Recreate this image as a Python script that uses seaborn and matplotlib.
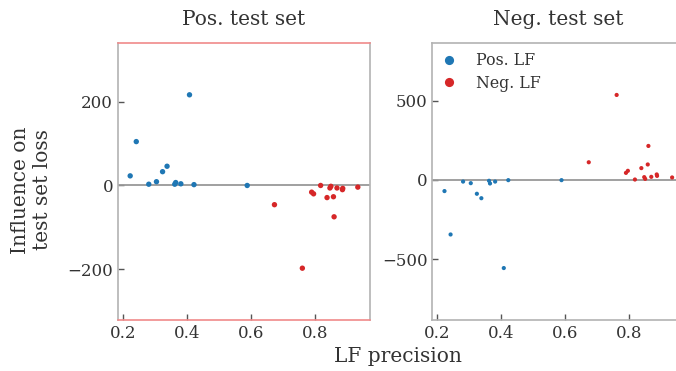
import numpy as np
import pandas as pd
import matplotlib
matplotlib.use("Agg")
import matplotlib.pyplot as plt
import seaborn as sns

# LF precision of positive / negative labeling functions
pos_lf_precision = [0.223, 0.242, 0.281, 0.305, 0.324, 0.338, 0.362, 0.365, 0.381, 0.408, 0.422, 0.588]
neg_lf_precision = [0.673, 0.760, 0.789, 0.795, 0.817, 0.837, 0.846, 0.849, 0.857, 0.859, 0.868, 0.885, 0.886, 0.933]

# Influence on positive test set loss
pos_lf_infl_postest = [23, 105, 3, 9, 33, 46, 3, 7, 4, 217, 2, 0]
neg_lf_infl_postest = [-46, -198, -16, -20, 0, -29, -6, -2, -27, -75, -6, -10, -7, -4]

# Influence on negative test set loss
pos_lf_infl_negtest = [-71, -345, -11, -21, -88, -116, -6, -23, -11, -557, -2, -2]
neg_lf_infl_negtest = [111, 536, 44, 57, 2, 74, 17, 6, 97, 214, 19, 34, 25, 15]

titles = ["Pos. test set", "Neg. test set"]
hue_labels = ["Pos. LF", "Neg. LF"]

sns.set_theme(style="ticks")
plt.rcParams["font.family"] = ["DejaVu Serif"]
plt.rcParams["xtick.direction"] = "in"
plt.rcParams["ytick.direction"] = "in"

def make_df(pos_y, neg_y):
    return pd.DataFrame({
        "precision": pos_lf_precision + neg_lf_precision,
        "influence": pos_y + neg_y,
        "LF": [hue_labels[0]] * len(pos_y) + [hue_labels[1]] * len(neg_y),
    })

dfs = [make_df(pos_lf_infl_postest, neg_lf_infl_postest),
       make_df(pos_lf_infl_negtest, neg_lf_infl_negtest)]

palette = {hue_labels[0]: "#1f77b4", hue_labels[1]: "#d62728"}

fig = plt.figure(figsize=(6.76, 3.71), dpi=100)
W, H = 676, 371
ax1 = fig.add_axes([118 / W, (H - 320) / H, 252 / W, 277 / H])
ax2 = fig.add_axes([432.3 / W, (H - 320) / H, 252 / W, 277 / H])

gray = "#b3b3b3"
for ax, df, title, sz in [(ax1, dfs[0], titles[0], 15), (ax2, dfs[1], titles[1], 9)]:
    ax.axhline(0, color="#999999", lw=1.3, zorder=1)
    sns.scatterplot(data=df, x="precision", y="influence", hue="LF", palette=palette,
                    s=sz, linewidth=0, ax=ax, legend=(ax is ax2), zorder=3)
    ax.set_title(title, fontsize=14.5, pad=13, color="#333333")
    ax.set_xlabel("")
    ax.set_ylabel("")
    ax.set_xlim(0.185, 0.971)
    ax.set_xticks([0.2, 0.4, 0.6, 0.8])
    ax.tick_params(labelsize=12, length=4, width=1, color="#555555", labelcolor="#333333")
    for sp in ax.spines.values():
        sp.set_color(gray)
        sp.set_linewidth(1.2)
        sp.set_visible(True)

ax1.set_ylim(-322, 341)
ax1.set_yticks([-200, 0, 200])
ax1.spines["top"].set_color("#f08a8a")
ax1.spines["bottom"].set_color("#f08a8a")

ax2.set_ylim(-885, 864)
ax2.set_yticks([-500, 0, 500])

leg = ax2.legend(loc="upper left", frameon=False, fontsize=11.3, markerscale=2.2,
                 handletextpad=0.7, borderaxespad=0.0, labelspacing=0.35,
                 bbox_to_anchor=(-0.02, 0.99))
for t in leg.get_texts():
    t.set_color("#333333")

fig.text(32 / W, 1 - 190 / H, "Influence on\ntest set loss", rotation=90, ha="center",
         va="center", fontsize=14.5, color="#333333", multialignment="center")
fig.text(398 / W, 1 - 357 / H, "LF precision", ha="center", va="center",
         fontsize=14.5, color="#333333")

fig.savefig("out.png", dpi=100)
